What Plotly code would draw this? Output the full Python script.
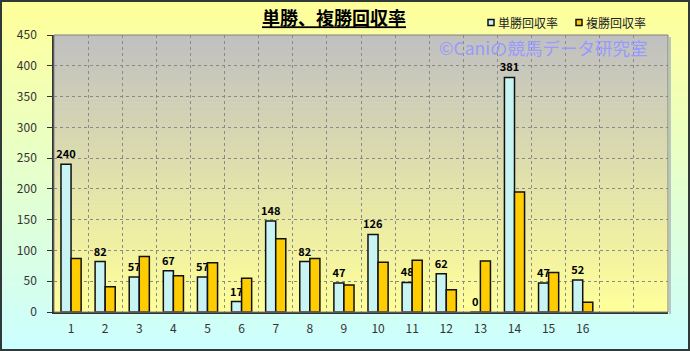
import plotly.graph_objects as go

categories = [str(i) for i in range(1, 17)]
n_slots = 18
series_names = ["単勝回収率", "複勝回収率"]
win_return = [240, 82, 57, 67, 57, 17, 148, 82, 47, 126, 48, 62, 0, 381, 47, 52]
place_return = [87, 41, 90, 59, 80, 55, 119, 87, 44, 81, 84, 36, 83, 195, 64, 16]
y_ticks = list(range(0, 451, 50))

W, H = 690, 351
ML, MR, MT, MB = 54, 22, 35, 39
PW, PH = W - ML - MR, H - MT - MB
FONT = "Noto Sans CJK JP"
COLORS = ["#C8F4F4", "#FFCC00"]


def pxx(px):
    return (px - ML) / PW


def pxy(py):
    return (H - MB - py) / PH


xpos = [i + 1 for i in range(len(categories))]

fig = go.Figure()
fig.add_trace(go.Bar(
    x=xpos, y=win_return, name=series_names[0],
    marker=dict(color=COLORS[0], line=dict(color="#111111", width=1.5)),
    text=[str(v) for v in win_return], textposition="outside", constraintext="none",
    textfont=dict(family=FONT, size=11, color="#000000", weight="bold"),
    cliponaxis=False, showlegend=False,
))
fig.add_trace(go.Bar(
    x=xpos, y=place_return, name=series_names[1],
    marker=dict(color=COLORS[1], line=dict(color="#111111", width=1.5)),
    showlegend=False,
))


def lerp(c1, c2, t):
    a = [int(c1[i:i + 2], 16) for i in (1, 3, 5)]
    b = [int(c2[i:i + 2], 16) for i in (1, 3, 5)]
    return "rgb(%d,%d,%d)" % tuple(round(a[k] + (b[k] - a[k]) * t) for k in range(3))


shapes = []
# page gradient
px0, px1 = pxx(0), pxx(W)
py0, py1 = pxy(H), pxy(0)
N = 70
for i in range(N):
    t = i / (N - 1)
    ya = py1 - (py1 - py0) * i / N
    yb = py1 - (py1 - py0) * (i + 1) / N
    shapes.append(dict(type="rect", xref="paper", yref="paper", x0=px0, x1=px1,
                       y0=yb - 0.002, y1=ya, fillcolor=lerp("#FFFF99", "#CCFFFF", t),
                       line=dict(width=0), layer="below"))
# plot area gradient
for i in range(N):
    t = i / (N - 1)
    ya = 1 - i / N
    yb = 1 - (i + 1) / N
    shapes.append(dict(type="rect", xref="paper", yref="paper", x0=0, x1=1,
                       y0=yb - 0.002, y1=ya, fillcolor=lerp("#C0C0C0", "#FFFF99", t),
                       line=dict(width=0), layer="below"))
# plot frame + shadow
shapes.append(dict(type="line", xref="paper", yref="paper", x0=pxx(W - MR + 2), x1=pxx(W - MR + 2),
                   y0=pxy(H - MB + 2), y1=pxy(MT + 2), line=dict(color="#B8C8C0", width=2), layer="above"))
shapes.append(dict(type="rect", xref="paper", yref="paper", x0=0, x1=1, y0=0, y1=1,
                   line=dict(color="#808080", width=1), fillcolor="rgba(0,0,0,0)", layer="above"))
# page border
shapes.append(dict(type="rect", xref="paper", yref="paper",
                   x0=pxx(1), x1=pxx(W - 1), y0=pxy(H - 1), y1=pxy(1),
                   line=dict(color="#303838", width=2), fillcolor="rgba(0,0,0,0)", layer="above"))

# legend (drawn manually to keep the small square keys)
legend_x = [488, 576]
legend_y = 22.5
annotations = []
for name, col, lx in zip(series_names, COLORS, legend_x):
    shapes.append(dict(type="rect", xref="paper", yref="paper",
                       x0=pxx(lx), x1=pxx(lx + 6), y0=pxy(legend_y + 3), y1=pxy(legend_y - 3),
                       fillcolor=col, line=dict(color="#111111", width=1.5), layer="above"))
    annotations.append(dict(text=name, xref="paper", yref="paper", x=pxx(lx + 8), xanchor="left",
                            y=pxy(legend_y), yanchor="middle", showarrow=False,
                            font=dict(family=FONT, size=12, color="#222222")))

annotations.append(dict(text="©Caniの競馬データ研究室", xref="paper", yref="paper",
                        x=pxx(649), xanchor="right", y=pxy(47.5), yanchor="middle",
                        showarrow=False, borderpad=0,
                        font=dict(family=FONT, size=17.5, color="#9999FF")))

fig.update_layout(
    width=W, height=H,
    margin=dict(l=ML, r=MR, t=MT, b=MB),
    paper_bgcolor="rgba(0,0,0,0)", plot_bgcolor="rgba(0,0,0,0)",
    font=dict(family=FONT, size=12, color="#333333"),
    barmode="group", bargap=0.41, bargroupgap=0,
    title=dict(text="<b><u>単勝、複勝回収率</u></b>", x=334 / W, xanchor="center",
               y=1 - 19 / H, yanchor="middle",
               font=dict(family=FONT, size=18, color="#000000")),
    shapes=shapes, annotations=annotations,
    showlegend=False,
)

fig.update_xaxes(
    range=[0.5, n_slots + 0.5], tickmode="array", tickvals=xpos, ticktext=categories,
    showgrid=False, ticks="", showline=True, linecolor="#333333", linewidth=1.5,
    tickfont=dict(family=FONT, size=12, color="#333333"), ticklabelstandoff=5,
    minor=dict(tickmode="array", tickvals=[i + 0.5 for i in range(1, n_slots)],
               showgrid=True, gridcolor="#8a8a8a", griddash="dot", gridwidth=1, ticks=""),
    zeroline=False, fixedrange=True,
)
fig.update_yaxes(
    range=[0, 450], tickmode="array", tickvals=y_ticks,
    showgrid=True, gridcolor="#8a8a8a", griddash="dot", gridwidth=1,
    ticks="outside", ticklen=5, tickcolor="#333333", ticklabelstandoff=8,
    showline=True, linecolor="#333333", linewidth=1.5, zeroline=False,
    tickfont=dict(family=FONT, size=12, color="#333333"), fixedrange=True,
)

fig.write_html("out.html")
